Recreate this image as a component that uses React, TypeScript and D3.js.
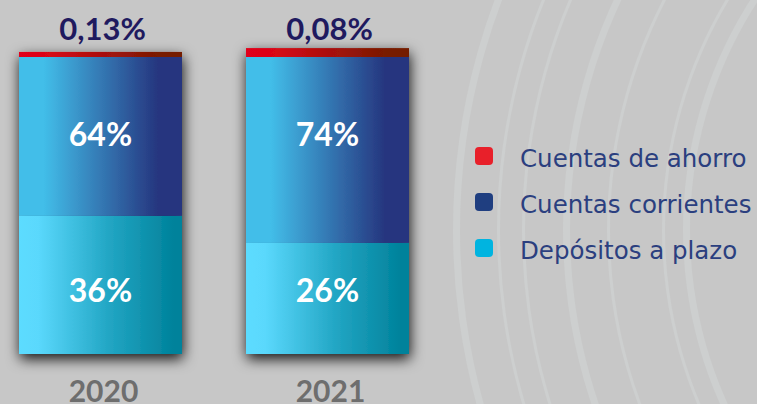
import React from "react";
import * as d3 from "d3";

// categories and labels
const years = ["2020", "2021"];
const ahorroLabels = ["0,13%", "0,08%"];
const corrientesLabels = ["64%", "74%"];
const depositosLabels = ["36%", "26%"];

// segment shares as they are drawn in the original (not proportional to the labels)
const depositosDrawn = [46.5, 37.4];
const corrientesDrawn = [53.5, 62.6];
const ahorroDrawn = [1.7, 3.0];

const legendItems = ["Cuentas de ahorro", "Cuentas corrientes", "Depósitos a plazo"];
const legendColors = ["#e8202a", "#1f3e80", "#00b4e0"];

const width = 757;
const height = 404;
const font = "Lato, 'Open Sans', sans-serif";

export default function App() {
    const x = d3.scaleBand().domain(years).range([19, 409]).paddingInner(0.282).paddingOuter(0);
    const y = d3.scaleLinear().domain([0, 100]).range([354, 57]);

    // faint decorative arcs in the background
    const arcs = [420, 445, 500, 540, 585, 610, 650].map((r, i) =>
        d3.arc()({
            innerRadius: r,
            outerRadius: r + (i % 3 === 0 ? 7 : 3),
            startAngle: -Math.PI * 0.85,
            endAngle: -Math.PI * 0.15,
        })
    );

    return (
        <svg
            width={width}
            height={height}
            style={{ position: "absolute", left: 0, top: 0 }}
        >
            <defs>
                <linearGradient id="gBlue" x1="0" x2="1" y1="0" y2="0">
                    <stop offset="0" stopColor="#42bee9" />
                    <stop offset="0.15" stopColor="#42bee9" />
                    <stop offset="0.5" stopColor="#3479b4" />
                    <stop offset="0.85" stopColor="#26367f" />
                    <stop offset="1" stopColor="#26367f" />
                </linearGradient>
                <linearGradient id="gTeal" x1="0" x2="1" y1="0" y2="0">
                    <stop offset="0" stopColor="#5cdcff" />
                    <stop offset="0.12" stopColor="#5ad8fc" />
                    <stop offset="0.55" stopColor="#22a6c4" />
                    <stop offset="0.95" stopColor="#00829b" />
                    <stop offset="1" stopColor="#00829b" />
                </linearGradient>
                <linearGradient id="gRed" x1="0" x2="1" y1="0" y2="0">
                    <stop offset="0" stopColor="#e1051a" />
                    <stop offset="0.15" stopColor="#dc0618" />
                    <stop offset="0.85" stopColor="#7a1a02" />
                    <stop offset="1" stopColor="#731c00" />
                </linearGradient>
                <filter id="shadow" x="-30%" y="-20%" width="160%" height="140%">
                    <feDropShadow dx="1" dy="5" stdDeviation="7" floodColor="#000" floodOpacity="0.9" />
                </filter>
            </defs>

            <rect width={width} height={height} fill="#c7c7c7" />
            <g transform="translate(1110,230)" fill="#cfd2d2" opacity={0.75}>
                {arcs.map((d, i) => (
                    <path key={i} d={d ?? ""} />
                ))}
            </g>

            {years.map((yr, i) => {
                const bx = x(yr) ?? 0;
                const bw = x.bandwidth();
                const dep = depositosDrawn[i];
                const cor = corrientesDrawn[i];
                const aho = ahorroDrawn[i];
                const cx = bx + bw / 2;
                return (
                    <g key={yr}>
                        <g filter="url(#shadow)">
                            <rect x={bx} y={y(dep)} width={bw} height={y(0) - y(dep)} fill="url(#gTeal)" />
                            <rect x={bx} y={y(dep + cor)} width={bw} height={y(dep) - y(dep + cor)} fill="url(#gBlue)" />
                            <rect
                                x={bx}
                                y={y(dep + cor + aho)}
                                width={bw}
                                height={y(dep + cor) - y(dep + cor + aho)}
                                fill="url(#gRed)"
                            />
                        </g>
                        <text
                            x={cx + 2}
                            y={40}
                            textAnchor="middle"
                            fontFamily={font}
                            fontWeight="bold"
                            fontSize={31}
                            fill="#1f1a5f"
                        >
                            {ahorroLabels[i]}
                        </text>
                        <text
                            x={cx}
                            y={y(70)}
                            textAnchor="middle"
                            fontFamily={font}
                            fontWeight="bold"
                            fontSize={32}
                            fill="#fff"
                        >
                            {corrientesLabels[i]}
                        </text>
                        <text
                            x={cx}
                            y={y(17.5)}
                            textAnchor="middle"
                            fontFamily={font}
                            fontWeight="bold"
                            fontSize={32}
                            fill="#fff"
                        >
                            {depositosLabels[i]}
                        </text>
                        <text
                            x={cx + 3}
                            y={402}
                            textAnchor="middle"
                            fontFamily={font}
                            fontWeight="bold"
                            fontSize={30}
                            fill="#6e6e6e"
                        >
                            {yr}
                        </text>
                    </g>
                );
            })}

            <g>
                {legendItems.map((name, i) => {
                    const ly = 156 + i * 46;
                    return (
                        <g key={name}>
                            <rect x={475} y={ly - 9} width={18} height={18} rx={4} fill={legendColors[i]} />
                            <text
                                x={520}
                                y={ly + 11}
                                fontFamily="'DejaVu Sans', sans-serif"
                                fontSize={24.5}
                                fill="#2b3f7f"
                            >
                                {name}
                            </text>
                        </g>
                    );
                })}
            </g>
        </svg>
    );
}
